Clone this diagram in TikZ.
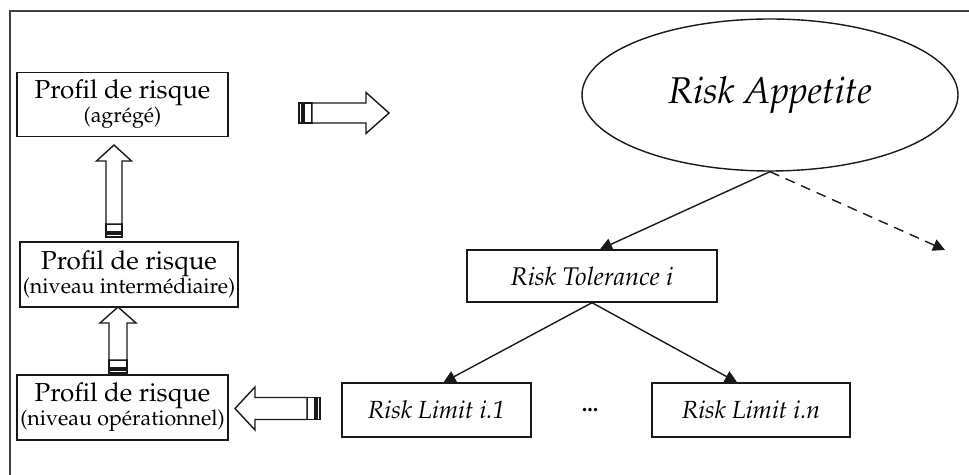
\documentclass[tikz,border=0pt]{standalone}
\usepackage[T1]{fontenc}
\usepackage{mathpazo}
\usetikzlibrary{arrows.meta,shapes.geometric}

\tikzset{
  frameline/.style={line width=0.85pt, draw=black!75},
  box/.style={draw=black!90, line width=0.7pt, inner sep=0pt, align=center},
  link/.style={draw=black!90, line width=0.7pt, -{Triangle[length=6pt,width=6pt]}},
  barrow/.style={draw=black!90, line width=0.7pt, fill=white},
}
\newcommand\bigtxt{\fontsize{13}{15}\selectfont}
\newcommand\smalltxt{\fontsize{10.7}{12}\selectfont}

% striped block arrow: tail x, tail y, angle, length, shaft half width, head half width, head length
\newcommand\stripedarrow[7]{%
  \begin{scope}[shift={(#1,#2)},rotate=#3]
    \draw[barrow] (0,-#5) rectangle (3,#5);
    \draw[barrow] (5,-#5) rectangle (13,#5);
    \draw[barrow] (13,-#5) -- ({#4-#7},-#5) -- ({#4-#7},-#6) -- (#4,0)
      -- ({#4-#7},#6) -- ({#4-#7},#5) -- (13,#5) -- cycle;
  \end{scope}}

\begin{document}
\begin{tikzpicture}[x=0.5pt,y=-0.5pt]
  \useasboundingbox (0,0) rectangle (969,475);
  \fill[white] (0,0) rectangle (969,475);

  % frame (left and top edges)
  \draw[frameline] (10,475) -- (10,11) -- (969,11);

  % risk profile boxes
  \node[box, minimum width=105.5pt, minimum height=32pt] (agg) at (122.5,104.5)
    {{\bigtxt Profil de risque}\\[0pt]{\smalltxt (agr\'eg\'e)}};
  \node[box, minimum width=109pt, minimum height=32.5pt] (mid) at (129,274.5)
    {{\bigtxt Profil de risque}\\[0pt]{\smalltxt (niveau interm\'ediaire)}};
  \node[box, minimum width=105.5pt, minimum height=32.5pt] (ope) at (122.5,407.5)
    {{\bigtxt Profil de risque}\\[0pt]{\smalltxt (niveau op\'erationnel)}};

  % risk hierarchy
  \node[draw=black!90, line width=0.7pt, ellipse, minimum width=188pt, minimum height=76pt,
        font=\fontsize{18.6}{22}\selectfont\itshape] (app) at (770,95) {Risk Appetite};
  \node[box, minimum width=125pt, minimum height=26pt, font=\fontsize{12.8}{14}\selectfont\itshape]
    (tol) at (592,276) {Risk Tolerance i};
  \node[box, minimum width=94.5pt, minimum height=27pt, font=\fontsize{12.4}{14}\selectfont\itshape]
    (lim1) at (436.5,410) {Risk Limit i.1};
  \node[box, minimum width=99pt, minimum height=27pt, font=\fontsize{12.4}{14}\selectfont\itshape]
    (limn) at (751,410) {Risk Limit i.n};
  \node[font=\fontsize{11}{13}\selectfont\bfseries] (dots) at (590,410) {...};
  \coordinate (more) at (945,250);

  \draw[link] (app.south) -- ([xshift=4pt]tol.north);
  \draw[link, dash pattern=on 5pt off 3.5pt] (app.south) -- (more);
  \draw[link] (tol.south) -- ([xshift=3.5pt]lim1.north);
  \draw[link] (tol.south) -- ([xshift=-7pt]limn.north);

  % striped block arrows
  \stripedarrow{299}{113}{0}{90}{10}{20.5}{23}
  \stripedarrow{114}{237}{90}{92}{8}{17.5}{16}
  \stripedarrow{118}{373}{90}{66}{9}{18}{16}
  \stripedarrow{320}{408.5}{180}{85}{11}{21.5}{20}
\end{tikzpicture}
\end{document}
